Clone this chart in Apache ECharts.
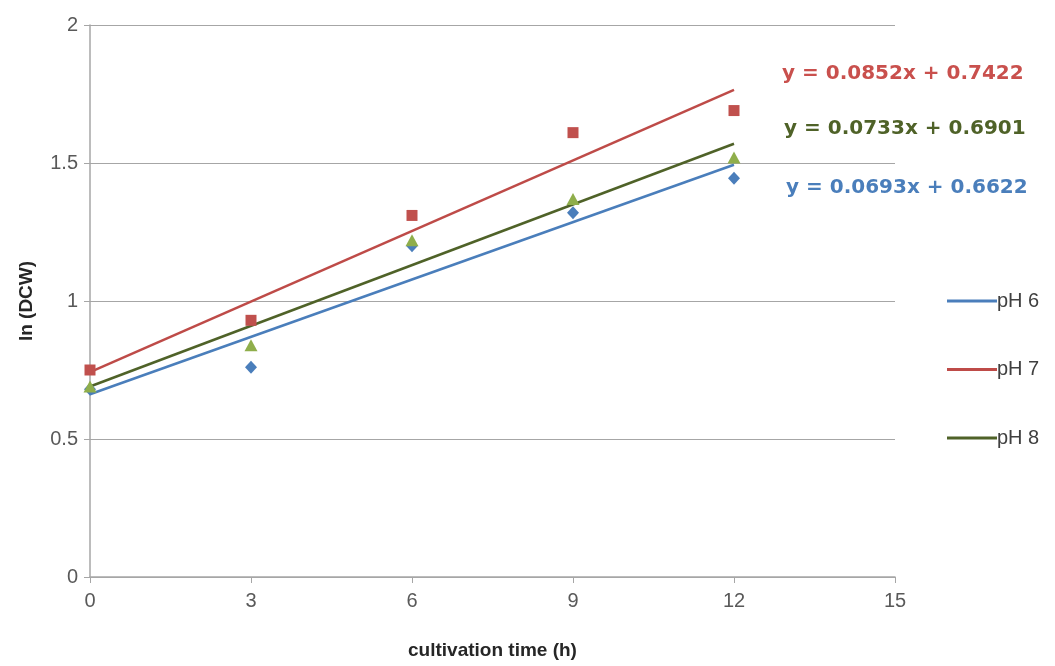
<!DOCTYPE html>
<html><head><meta charset="utf-8">
<script src="https://cdn.jsdelivr.net/npm/echarts@6/dist/echarts.min.js"></script>
<style>html,body{margin:0;padding:0;background:#fff}#c{width:1055px;height:666px}</style>
</head><body><div id="c"></div>
<script>
var times = [0, 3, 6, 9, 12];
var seriesNames = ['pH 6', 'pH 7', 'pH 8'];
var ph6 = [0.68, 0.76, 1.20, 1.32, 1.445];
var ph7 = [0.75, 0.93, 1.31, 1.61, 1.69];
var ph8 = [0.69, 0.84, 1.22, 1.37, 1.52];
var slopes = [0.0693, 0.0852, 0.0733];
var intercepts = [0.6622, 0.7422, 0.6901];
var equations = ['y = 0.0693x + 0.6622', 'y = 0.0852x + 0.7422', 'y = 0.0733x + 0.6901'];
var xTicks = [0, 3, 6, 9, 12, 15];
var yTicks = [0, 0.5, 1, 1.5, 2];

var lineColors = ['#4a7ebb', '#be4b48', '#4f6228'];
var markColors = ['#4a7ebb', '#c0504d', '#8fae4b'];
var symbols = ['diamond', 'rect', 'triangle'];
var symSizes = [[12, 13], [11, 11], [13, 12]];
var textColors = ['#4a7ebb', '#c9504d', '#4f6228'];
var vals = [ph6, ph7, ph8];

var chart = echarts.init(document.getElementById('c'));
var series = [];
for (var i = 0; i < 3; i++) {
  var x0 = times[0], x1 = times[times.length - 1];
  series.push({
    name: seriesNames[i], type: 'line', symbol: 'none', silent: true,
    lineStyle: {color: lineColors[i], width: 2.5},
    itemStyle: {color: lineColors[i]},
    data: [[x0, slopes[i] * x0 + intercepts[i]], [x1, slopes[i] * x1 + intercepts[i]]],
    z: 2
  });
}
for (var j = 0; j < 3; j++) {
  series.push({
    name: seriesNames[j] + ' data', type: 'scatter', symbol: symbols[j], symbolSize: symSizes[j],
    itemStyle: {color: markColors[j], opacity: 1},
    data: times.map(function (t, k) { return [t, vals[j][k]]; }),
    z: 3
  });
}
var fontMain = '"Liberation Sans", sans-serif';
var eqFont = 'bold 20px "DejaVu Sans", sans-serif';
chart.setOption({
  animation: false,
  backgroundColor: '#fff',
  grid: {left: 90, right: 160, top: 25, bottom: 89},
  xAxis: {
    type: 'value', min: 0, max: 15, interval: 3,
    name: 'cultivation time (h)', nameLocation: 'middle', nameGap: 64,
    nameTextStyle: {fontFamily: 'Liberation Sans', fontWeight: 'bold', fontSize: 19, color: '#262626'},
    axisLine: {show: true, lineStyle: {color: '#a6a6a6', width: 1.5}},
    axisTick: {show: true, length: 6, lineStyle: {color: '#a6a6a6'}},
    axisLabel: {fontFamily: fontMain, fontSize: 20, color: '#595959', margin: 14},
    splitLine: {show: false}
  },
  yAxis: {
    type: 'value', min: 0, max: 2, interval: 0.5,
    name: 'ln (DCW)', nameLocation: 'middle', nameGap: 54, nameRotate: 90,
    nameTextStyle: {fontFamily: 'Liberation Sans', fontWeight: 'bold', fontSize: 19, color: '#262626'},
    axisLine: {show: true, lineStyle: {color: '#a6a6a6', width: 1.5}},
    axisTick: {show: true, length: 6, lineStyle: {color: '#a6a6a6'}},
    axisLabel: {fontFamily: fontMain, fontSize: 20, color: '#595959', margin: 12},
    splitLine: {show: true, lineStyle: {color: '#a6a6a6', width: 1.2}}
  },
  legend: {
    data: seriesNames.map(function (n, k) { return {name: n, icon: 'rect', itemStyle: {color: lineColors[k]}}; }),
    orient: 'vertical', left: 942, top: 286,
    itemWidth: 50, itemHeight: 3, itemGap: 48.5,
    textStyle: {fontFamily: fontMain, fontSize: 20, color: '#404040', padding: [0, 0, 0, -5]}
  },
  graphic: [
    {type: 'text', left: 782, top: 64, style: {text: equations[1], fill: textColors[1], font: eqFont}},
    {type: 'text', left: 784, top: 119, style: {text: equations[2], fill: textColors[2], font: eqFont}},
    {type: 'text', left: 786, top: 178, style: {text: equations[0], fill: textColors[0], font: eqFont}}
  ],
  series: series
});
</script></body></html>
